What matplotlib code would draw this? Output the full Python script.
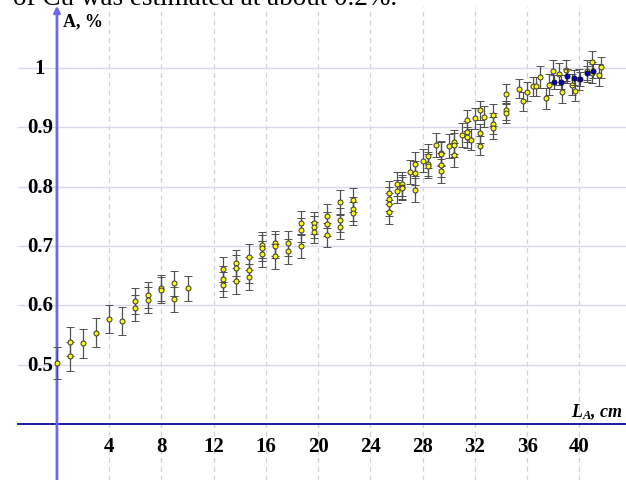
import numpy as np
import matplotlib.pyplot as plt

plt.rcParams['font.family'] = 'Liberation Serif'
plt.rcParams['mathtext.fontset'] = 'custom'
plt.rcParams['mathtext.it'] = 'Liberation Serif:italic:bold'
plt.rcParams['mathtext.rm'] = 'Liberation Serif:bold'

# measured asymmetry A vs. distance L_A
L_yellow = [0, 1, 1, 2, 3, 4, 5, 6, 6, 7, 7, 8, 8, 9, 9, 10,
            12.7, 12.7, 12.7, 13.7, 13.7, 13.7, 14.7, 14.7, 14.7,
            15.7, 15.7, 15.7, 16.7, 16.7, 16.7, 17.7, 17.7,
            18.7, 18.7, 18.7, 19.7, 19.7, 19.7, 20.7, 20.7, 20.7,
            21.7, 21.7, 21.7, 22.7, 22.7, 22.7,
            25.4, 25.4, 25.4, 25.4, 26.0, 26.0, 26.4, 26.4, 26.4,
            27.0, 27.4, 27.4, 27.4, 28.0, 28.4, 28.4, 28.4, 29.0,
            29.4, 29.4, 29.4, 29.4, 30.0, 30.4, 30.4, 30.4, 31.0,
            31.4, 31.4, 31.4, 31.7, 32.0, 32.4, 32.4, 32.4, 32.7,
            33.4, 33.4, 33.4, 34.4, 34.4, 34.4, 35.35, 35.65, 36.0,
            36.45, 36.7, 37.0, 37.47, 37.65, 37.96, 38.46, 38.67, 38.97,
            39.43, 39.66, 39.97, 40.6, 41.0, 41.0, 41.48, 41.68]
A_yellow = [0.503, 0.539, 0.514, 0.536, 0.554, 0.577, 0.574, 0.608, 0.596,
            0.617, 0.609, 0.630, 0.626, 0.637, 0.610, 0.629,
            0.661, 0.645, 0.635, 0.672, 0.663, 0.641, 0.681, 0.659, 0.648,
            0.701, 0.696, 0.686, 0.705, 0.700, 0.683, 0.705, 0.691,
            0.739, 0.727, 0.700, 0.739, 0.732, 0.723, 0.751, 0.737, 0.718,
            0.774, 0.744, 0.732, 0.777, 0.762, 0.755,
            0.790, 0.779, 0.770, 0.757, 0.804, 0.792, 0.804, 0.800, 0.797,
            0.825, 0.838, 0.823, 0.795, 0.844, 0.852, 0.838, 0.835, 0.870,
            0.857, 0.855, 0.836, 0.827, 0.869, 0.875, 0.870, 0.854, 0.887,
            0.912, 0.893, 0.883, 0.879, 0.915, 0.929, 0.890, 0.869, 0.918,
            0.921, 0.906, 0.899, 0.957, 0.929, 0.924, 0.965, 0.944, 0.960,
            0.969, 0.969, 0.985, 0.949, 0.972, 0.995, 0.990, 0.959, 0.996,
            0.972, 0.962, 0.981, 0.995, 1.010, 0.992, 0.988, 1.001]
dA_yellow = [0.027, 0.024, 0.024, 0.024, 0.024, 0.024, 0.024, 0.022, 0.022,
             0.022, 0.022, 0.022, 0.022, 0.021, 0.021, 0.021,
             0.021, 0.021, 0.021, 0.022, 0.022, 0.022, 0.022, 0.022, 0.022,
             0.022, 0.022, 0.022, 0.021, 0.021, 0.021, 0.021, 0.021,
             0.020, 0.020, 0.020, 0.018, 0.018, 0.018, 0.020, 0.020, 0.020,
             0.020, 0.020, 0.020, 0.020, 0.020, 0.020,
             0.020, 0.020, 0.020, 0.020, 0.020, 0.020, 0.020, 0.020, 0.020,
             0.020, 0.020, 0.020, 0.020, 0.020, 0.020, 0.020, 0.020, 0.020,
             0.020, 0.020, 0.020, 0.020, 0.020, 0.020, 0.020, 0.020, 0.020,
             0.018, 0.018, 0.018, 0.018, 0.018, 0.016, 0.016, 0.016, 0.018,
             0.018, 0.018, 0.018, 0.016, 0.016, 0.016, 0.016, 0.016, 0.016,
             0.016, 0.016, 0.018, 0.018, 0.018, 0.018, 0.018, 0.018, 0.018,
             0.018, 0.018, 0.018, 0.018, 0.018, 0.018, 0.018, 0.018]

L_blue = [38.08, 38.57, 39.07, 39.59, 40.05, 40.56, 41.07]
A_blue = [0.976, 0.976, 0.987, 0.984, 0.982, 0.991, 0.995]
dA_blue = [0.012, 0.012, 0.012, 0.012, 0.012, 0.012, 0.012]

xticks = [4, 8, 12, 16, 20, 24, 28, 32, 36, 40]
yticks = [0.5, 0.6, 0.7, 0.8, 0.9, 1.0]
ylabels = ['0.5', '0.6', '0.7', '0.8', '0.9', '1']

fig = plt.figure(figsize=(6.26, 4.81), dpi=100)
ax = fig.add_axes([0, 0, 1, 1])
ax.set_xlim(-4.36, 43.57)
ax.set_ylim(0.3057, 1.1163)
ax.axis('off')

# grid
for x in xticks:
    ax.plot([x, x], [0.3057, 1.103], color='#d0d0e0', lw=0.9, ls=(0, (4, 3)), zorder=1)
for y in yticks:
    ax.plot([-3.0, 43.57], [y, y], color='#d8d8ea', lw=1.0, zorder=1)

# axes
ax.plot([-3.0, 43.57], [0.4, 0.4], color='#1a1aa8', lw=1.4, zorder=2)
ax.annotate('', xy=(0, 1.105), xytext=(0, 0.3057),
            arrowprops=dict(arrowstyle='-|>', color='#6a6af0', lw=2.0,
                            mutation_scale=9, shrinkA=0, shrinkB=0), zorder=2)

for x in xticks:
    ax.text(x, 0.363, str(x), ha='center', va='center', fontsize=15, fontweight='bold')
for y, s in zip(yticks, ylabels):
    ax.text(-1.3, y, s, ha='center', va='center', fontsize=15, fontweight='bold')

ax.text(0.45, 1.079, 'A, %', ha='left', va='center', fontsize=13, fontweight='bold')
ax.text(43.35, 0.422, r'$L_A$, cm', ha='right', va='center', fontsize=13,
        fontweight='bold', fontstyle='italic')

# data
ax.errorbar(L_yellow, A_yellow, yerr=dA_yellow, fmt='o', ms=3.6, mfc='#ffff00',
            mec='#333333', mew=0.7, ecolor='#505050', elinewidth=0.9,
            capsize=2.6, capthick=0.9, zorder=3)
ax.errorbar(L_blue, A_blue, yerr=dA_blue, fmt='o', ms=3.6, mfc='#0000b0',
            mec='#101040', mew=0.7, ecolor='#505050', elinewidth=0.9,
            capsize=2.6, capthick=0.9, zorder=4)

fig.text(0.02, 0.990, 'of Cu was estimated at about 0.2%.', fontsize=19.5,
         ha='left', va='baseline')

fig.savefig('out.png', dpi=100)
